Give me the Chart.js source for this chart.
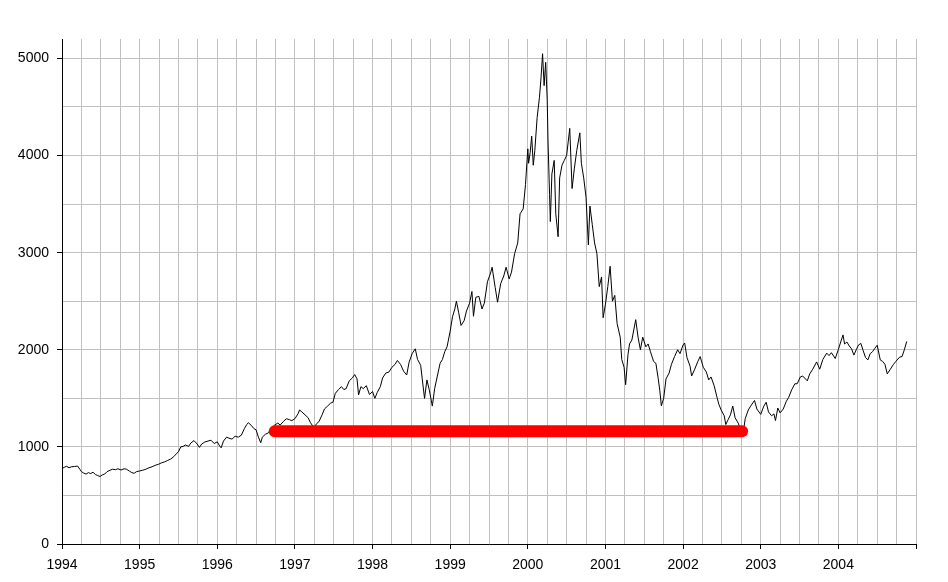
<!DOCTYPE html>
<html>
<head>
<meta charset="utf-8">
<script src="https://cdn.jsdelivr.net/npm/chart.js@4"></script>
<style>
  body { margin: 0; background: #fff; }
  #wrap { width: 948px; height: 582px; }
</style>
</head>
<body>
<div id="wrap"><canvas id="chart"></canvas></div>
<script>
// index level, dates as decimal years
const dates = [
  1994.00, 1994.03, 1994.06, 1994.09, 1994.12, 1994.16, 1994.20, 1994.23, 1994.25, 1994.28,
  1994.31, 1994.34, 1994.37, 1994.40, 1994.43, 1994.46, 1994.49, 1994.52, 1994.55, 1994.58,
  1994.62, 1994.65, 1994.69, 1994.72, 1994.76, 1994.80, 1994.83, 1994.87, 1994.90, 1994.93,
  1994.96,
  1995.00, 1995.04, 1995.08, 1995.12, 1995.16, 1995.20, 1995.24, 1995.28, 1995.32, 1995.36,
  1995.40, 1995.44, 1995.48, 1995.50, 1995.53, 1995.56, 1995.59, 1995.63, 1995.66, 1995.70,
  1995.74, 1995.77, 1995.80, 1995.84, 1995.88, 1995.92, 1995.96,
  1996.00, 1996.03, 1996.05, 1996.08, 1996.12, 1996.15, 1996.19, 1996.23, 1996.27, 1996.31,
  1996.35, 1996.38, 1996.40, 1996.44, 1996.47, 1996.50, 1996.53, 1996.56, 1996.58, 1996.62,
  1996.66, 1996.70, 1996.74, 1996.78, 1996.81, 1996.85, 1996.89, 1996.93, 1996.96,
  1997.00, 1997.04, 1997.06, 1997.09, 1997.13, 1997.17, 1997.20, 1997.23, 1997.25, 1997.28,
  1997.31, 1997.35, 1997.38, 1997.42, 1997.46, 1997.49, 1997.52, 1997.56, 1997.60, 1997.63,
  1997.66, 1997.70, 1997.74, 1997.77, 1997.80, 1997.82, 1997.85, 1997.88, 1997.92, 1997.96,
  1998.00, 1998.03, 1998.06, 1998.10, 1998.13, 1998.17, 1998.21, 1998.25, 1998.29, 1998.32,
  1998.36, 1998.40, 1998.44, 1998.47, 1998.51, 1998.55, 1998.58, 1998.62, 1998.64, 1998.67,
  1998.70, 1998.73, 1998.77, 1998.80, 1998.84, 1998.87, 1998.90, 1998.93, 1998.96,
  1999.00, 1999.03, 1999.06, 1999.08, 1999.11, 1999.14, 1999.18, 1999.21, 1999.25, 1999.28,
  1999.30, 1999.33, 1999.37, 1999.41, 1999.44, 1999.48, 1999.52, 1999.54, 1999.58, 1999.61,
  1999.65, 1999.69, 1999.72, 1999.76, 1999.79, 1999.83, 1999.87, 1999.90, 1999.94, 1999.97,
  2000.00, 2000.01, 2000.03, 2000.05, 2000.07, 2000.09, 2000.12, 2000.15, 2000.17, 2000.19,
  2000.21, 2000.23, 2000.25, 2000.26, 2000.28, 2000.29, 2000.31, 2000.34, 2000.36, 2000.39,
  2000.41, 2000.44, 2000.47, 2000.50, 2000.54, 2000.57, 2000.60, 2000.63, 2000.67, 2000.69,
  2000.72, 2000.75, 2000.78, 2000.80, 2000.83, 2000.86, 2000.89, 2000.92, 2000.95, 2000.97,
  2001.00, 2001.03, 2001.06, 2001.09, 2001.12, 2001.15, 2001.19, 2001.21, 2001.24, 2001.26,
  2001.29, 2001.31, 2001.34, 2001.39, 2001.42, 2001.45, 2001.48, 2001.52, 2001.55, 2001.58,
  2001.62, 2001.65, 2001.68, 2001.70, 2001.72, 2001.75, 2001.78, 2001.82, 2001.85, 2001.89,
  2001.93, 2001.96,
  2002.00, 2002.02, 2002.05, 2002.09, 2002.11, 2002.15, 2002.19, 2002.22, 2002.26, 2002.30,
  2002.33, 2002.36, 2002.40, 2002.44, 2002.46, 2002.49, 2002.53, 2002.55, 2002.58, 2002.61,
  2002.64, 2002.67, 2002.71, 2002.74, 2002.77, 2002.80, 2002.84, 2002.87, 2002.92, 2002.95,
  2003.00, 2003.04, 2003.07, 2003.10, 2003.14, 2003.17, 2003.19, 2003.22, 2003.25, 2003.29,
  2003.33, 2003.36, 2003.40, 2003.44, 2003.47, 2003.51, 2003.54, 2003.60, 2003.63, 2003.67,
  2003.72, 2003.76, 2003.80, 2003.85, 2003.88, 2003.91, 2003.96,
  2004.00, 2004.03, 2004.06, 2004.08, 2004.11, 2004.14, 2004.17, 2004.20, 2004.23, 2004.26,
  2004.29, 2004.32, 2004.35, 2004.38, 2004.41, 2004.44, 2004.47, 2004.50, 2004.54, 2004.57,
  2004.60, 2004.63, 2004.67, 2004.71, 2004.74, 2004.79, 2004.82, 2004.85, 2004.88
];
const values = [
  777, 790, 800, 785, 795, 798, 803, 770, 745, 730,
  720, 735, 725, 740, 715, 705, 695, 712, 720, 745,
  760, 770, 765, 775, 762, 775, 770, 750, 735, 728,
  745,
  752, 760, 770, 785, 795, 810, 820, 835, 845, 860,
  875, 900, 935, 950, 1000, 1005, 1020, 1005, 1040, 1065,
  1030, 995, 1030, 1050, 1060, 1068, 1035,
  1052, 1010, 990, 1060, 1100, 1090, 1080, 1110, 1100, 1120,
  1190, 1230, 1249, 1220, 1190, 1175, 1100, 1043, 1100, 1130,
  1145, 1200, 1225, 1245, 1225, 1260, 1290, 1280, 1270,
  1291, 1340, 1380, 1360, 1330, 1300, 1250, 1215, 1201, 1240,
  1260, 1330, 1390, 1420, 1450, 1460, 1550, 1590, 1620, 1590,
  1600, 1680, 1710, 1745, 1700, 1535, 1620, 1600, 1630, 1540,
  1570, 1500, 1560, 1620, 1710, 1760, 1770, 1820, 1850, 1890,
  1850, 1780, 1740, 1870, 1960, 2010, 1900, 1840, 1700, 1499,
  1690, 1590, 1420, 1600, 1750, 1860, 1900, 1980, 2030,
  2192, 2340, 2420, 2500, 2380, 2250, 2300, 2400, 2480, 2600,
  2345, 2540, 2550, 2420, 2480, 2700, 2790, 2850, 2640, 2490,
  2680, 2760, 2850, 2730, 2800, 2990, 3100, 3400, 3450, 3700,
  4069, 3920, 4030, 4200, 3900, 4050, 4390, 4600, 4800, 5048,
  4720, 4960, 4570, 4150, 3600, 3320, 3810, 3950, 3400, 3164,
  3770, 3900, 3950, 4000, 4280, 3660, 3870, 4050, 4234, 3920,
  3770, 3570, 3080, 3480, 3290, 3100, 2990, 2650, 2750, 2330,
  2470, 2650, 2860, 2500, 2560, 2270, 2130, 1900, 1820, 1640,
  1950, 2060, 2100, 2310, 2130, 2000, 2130, 2030, 2060, 1980,
  1880, 1860, 1700, 1580, 1423, 1500, 1700, 1760, 1850, 1930,
  2000, 1960,
  2050, 2070, 1920, 1830, 1730, 1800, 1880, 1930, 1820, 1770,
  1690, 1720, 1630, 1500, 1440, 1380, 1320, 1230, 1280, 1330,
  1420, 1300, 1245, 1180, 1114, 1290, 1380, 1420, 1478, 1390,
  1335, 1420, 1460, 1360, 1320, 1340, 1271, 1400, 1350, 1390,
  1470, 1510, 1590, 1650, 1650, 1720, 1730, 1680, 1750, 1800,
  1875, 1800, 1900, 1965, 1940, 1970, 1910,
  2003, 2080, 2153, 2060, 2080, 2040, 2010, 1945, 2000, 2050,
  2065, 1990, 1920, 1895, 1960, 1980, 2015, 2047, 1895, 1880,
  1850, 1752, 1800, 1850, 1880, 1925, 1930, 2000, 2085
];

// thick red bar
const redLineX = [1996.74, 2002.76];
const redLineLevel = 1162;

const xMin = 1994, xMax = 2005;
const yMin = 0, yMax = 5200;
// grid every 500, labels every 1000
const yTickValues = [0, 500, 1000, 1500, 2000, 2500, 3000, 3500, 4000, 4500, 5000];

const seriesPoints = dates.map((d, i) => ({x: d, y: values[i]}));
const redPoints = redLineX.map(d => ({x: d, y: redLineLevel}));

const isYear = v => Math.abs(v - Math.round(v)) < 1e-6;
const isThousand = v => Math.abs(v % 1000) < 1e-6;

new Chart(document.getElementById('chart'), {
    type: 'line',
    data: {
        datasets: [
            {
                data: redPoints,
                borderColor: '#ff0000',
                borderWidth: 12,
                borderCapStyle: 'round',
                pointRadius: 0,
                fill: false
            },
            {
                data: seriesPoints,
                borderColor: '#000000',
                borderWidth: 1,
                pointRadius: 0,
                tension: 0,
                fill: false
            }
        ]
    },
    options: {
        responsive: true,
        maintainAspectRatio: false,
        animation: false,
        layout: { padding: { top: 39, right: 32, left: 0, bottom: 0 } },
        plugins: {
            legend: { display: false },
            tooltip: { enabled: false }
        },
        scales: {
            x: {
                type: 'linear',
                min: xMin,
                max: xMax,
                afterFit: s => { s.height = 38; },
                border: { color: '#000', width: 1 },
                grid: {
                    color: '#c0c0c0',
                    lineWidth: 1,
                    tickLength: 5,
                    tickColor: c => isYear(c.tick.value) ? '#000' : 'rgba(0,0,0,0)'
                },
                ticks: {
                    stepSize: 0.25,
                    maxTicksLimit: 100,
                    autoSkip: false,
                    maxRotation: 0,
                    padding: 8,
                    color: '#000',
                    font: { family: 'Liberation Sans, Arial, sans-serif', size: 14 },
                    callback: v => isYear(v) && v < xMax ? String(Math.round(v)) : ''
                }
            },
            y: {
                min: yMin,
                max: yMax,
                afterBuildTicks: s => { s.ticks = yTickValues.map(v => ({value: v})); },
                afterFit: s => { s.width = 62; },
                border: { color: '#000', width: 1 },
                grid: {
                    color: '#c0c0c0',
                    lineWidth: 1,
                    tickLength: 5,
                    tickColor: c => isThousand(c.tick.value) ? '#000' : 'rgba(0,0,0,0)'
                },
                ticks: {
                    autoSkip: false,
                    padding: 8,
                    color: '#000',
                    font: { family: 'Liberation Sans, Arial, sans-serif', size: 14 },
                    callback: v => isThousand(v) ? String(v) : ''
                }
            }
        }
    }
});
</script>
</body>
</html>
